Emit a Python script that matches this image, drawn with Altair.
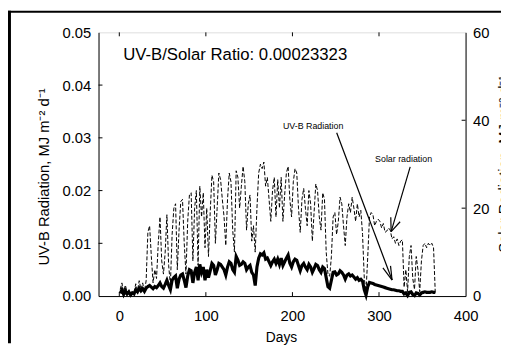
import altair as alt
import pandas as pd

# ---- data (every second day) ----
days = list(range(1, 366, 2))

solar = [
    1.5, 3.0, 1.0, 2.5, 0.8, 1.2, 0.5, 0.8, 0.6, 2.8, 1.2, 3.5, 1.5, 3.0, 1.0,
    3.5, 14.5, 16.0, 9.0, 3.0, 6.0, 4.0, 12.0, 18.0, 8.0, 5.0, 10.0, 18.5, 7.0, 2.5,
    14.0, 20.0, 21.0, 6.0, 15.0, 21.5, 22.0, 12.0, 5.0, 17.0, 23.0, 23.5, 8.0, 20.0, 24.0,
    7.0, 25.0, 18.0, 23.5, 11.0, 20.0, 9.0, 19.0, 27.5, 26.0, 12.0, 20.0, 28.0, 26.5, 22.0,
    18.0, 11.5, 22.0, 28.0, 26.0, 15.0, 10.0, 28.5, 27.0, 20.0, 25.0, 29.5, 26.0, 15.0, 21.0,
    23.0, 12.5, 16.0, 10.0, 20.0, 28.0, 30.0, 29.0, 30.5, 25.0, 27.0, 22.0, 17.0, 24.0, 27.0,
    18.0, 26.5, 20.0, 27.0, 17.0, 23.0, 28.0, 29.5, 22.0, 18.0, 26.0, 29.0, 28.0, 20.0, 14.5,
    22.0, 24.5, 20.0, 16.0, 24.0, 21.0, 12.5, 19.0, 25.5, 24.0, 18.0, 15.0, 23.5, 22.0, 10.0,
    5.0, 4.5, 9.0, 18.0, 19.0, 14.0, 17.0, 22.5, 21.0, 16.0, 11.5, 18.0, 21.0, 19.0, 22.5,
    20.0, 17.0, 21.0, 18.0, 19.5, 14.0, 4.0, 1.0, 9.0, 18.0, 19.0, 18.5, 16.0, 17.0, 17.5,
    17.0, 15.5, 16.5, 14.5, 14.8, 15.5, 15.0, 13.0, 13.5, 12.0, 13.0, 11.5, 12.5, 12.8, 2.0,
    6.0, 1.0, 9.0, 11.5, 4.0, 1.5, 9.0, 6.0, 1.0, 8.0, 11.5, 12.0, 11.0, 12.0, 11.5, 12.0, 11.0, 0.7,
]

uvb = [
    0.0005, 0.0012, 0.0003, 0.0010, 0.0004, 0.0008, 0.0002, 0.0006, 0.0004, 0.0012, 0.0008, 0.0015, 0.0010, 0.0014, 0.0009,
    0.0015, 0.0018, 0.0020, 0.0017, 0.0014, 0.0018, 0.0016, 0.0020, 0.0025, 0.0018, 0.0015, 0.0022, 0.0030, 0.0020, 0.0012,
    0.0030, 0.0035, 0.0038, 0.0015, 0.0032, 0.0040, 0.0042, 0.0030, 0.0016, 0.0038, 0.0050, 0.0048, 0.0025, 0.0045, 0.0055,
    0.0030, 0.0060, 0.0045, 0.0055, 0.0030, 0.0050, 0.0035, 0.0048, 0.0062, 0.0058, 0.0040, 0.0050, 0.0062, 0.0060, 0.0055,
    0.0050, 0.0040, 0.0055, 0.0065, 0.0062, 0.0050, 0.0045, 0.0075, 0.0068, 0.0058, 0.0060, 0.0065, 0.0062, 0.0050, 0.0055,
    0.0058, 0.0045, 0.0040, 0.0020, 0.0055, 0.0072, 0.0080, 0.0078, 0.0082, 0.0070, 0.0072, 0.0065, 0.0058, 0.0065, 0.0070,
    0.0062, 0.0070, 0.0060, 0.0072, 0.0058, 0.0065, 0.0072, 0.0078, 0.0062, 0.0055, 0.0065, 0.0070, 0.0068, 0.0058, 0.0048,
    0.0058, 0.0062, 0.0055, 0.0050, 0.0060, 0.0055, 0.0045, 0.0052, 0.0060, 0.0058, 0.0050, 0.0045, 0.0055, 0.0052, 0.0035,
    0.0018, 0.0015, 0.0030, 0.0045, 0.0046, 0.0040, 0.0042, 0.0048, 0.0045, 0.0040, 0.0032, 0.0040, 0.0042, 0.0038, 0.0040,
    0.0036, 0.0032, 0.0035, 0.0030, 0.0032, 0.0028, 0.0012, 0.0002, 0.0018, 0.0026, 0.0025, 0.0024, 0.0022, 0.0021, 0.0020,
    0.0019, 0.0018, 0.0017, 0.0016, 0.0015, 0.0014, 0.0013, 0.0012, 0.0012, 0.0011, 0.0010, 0.0010, 0.0009, 0.0009, 0.0004,
    0.0006, 0.0001, 0.0007, 0.0008, 0.0003, 0.0001, 0.0006, 0.0005, 0.0002, 0.0006, 0.0007, 0.0008, 0.0007, 0.0007, 0.0007, 0.0008, 0.0007, 0.0007,
]

x_ticks = [0, 100, 200, 300, 400]
x_inner_ticks = [0, 100, 200, 300]
uv_ticks = [0.0, 0.01, 0.02, 0.03, 0.04, 0.05]
uv_inner_ticks = [0.01, 0.02, 0.03, 0.04]
solar_ticks = [0, 20, 40, 60]
solar_inner_ticks = [20, 40]

ratio_label = "UV-B/Solar Ratio: 0.00023323"
ann_text = ["UV-B Radiation", "Solar radiation"]
ann_x = [223.9, 328.4]
ann_y = [0.03228, 0.02593]

# arrow segments (day, UV-B units)
arr_x = [251.1, 304.5, 313.3, 336.0, 313.6, 324.4]
arr_y = [0.03097, 0.00535, 0.00573, 0.02450, 0.01493, 0.01409]
arr_x2 = [315.1, 315.1, 315.1, 314.0, 314.0, 314.0]
arr_y2 = [0.00304, 0.00304, 0.00304, 0.01222, 0.01222, 0.01222]

FONT = "Liberation Sans"
XDOM = [-24, 400]
UVDOM = [0, 0.05]
SDOM = [0, 60]

df = pd.DataFrame({"day": days, "solar": solar, "uvb": uvb})

xs = alt.Scale(domain=XDOM, nice=False, zero=False)
uvs = alt.Scale(domain=UVDOM, nice=False)
ss = alt.Scale(domain=SDOM, nice=False)

x_axis = alt.Axis(
    values=x_ticks, title=None, ticks=False, tickSize=0, labelPadding=13,
    labelFlush=False, grid=False, domainColor="black", labelFontSize=15,
    labelFont=FONT, labelColor="black")


def X(field):
    return alt.X(field, scale=xs, axis=x_axis)


solar_line = alt.Chart(df).mark_line(
    color="black", strokeWidth=1, strokeDash=[4, 2]
).encode(
    x=X("day:Q"),
    y=alt.Y("solar:Q", scale=ss, axis=alt.Axis(
        orient="right", values=solar_ticks, title=None, ticks=False, tickSize=0,
        labelPadding=7, grid=False, domainColor="black", labelFontSize=15,
        labelFont=FONT, labelColor="black")),
)

uv_line = alt.Chart(df).mark_line(color="black", strokeWidth=3.2).encode(
    x=X("day:Q"),
    y=alt.Y("uvb:Q", scale=uvs, axis=alt.Axis(
        orient="left", values=uv_ticks, format=".2f", title=None, ticks=False,
        tickSize=0, labelPadding=8, grid=False, domainColor="black",
        labelFontSize=15, labelFont=FONT, labelColor="black")),
)

arrows = alt.Chart(pd.DataFrame({"x": arr_x, "y": arr_y, "x2": arr_x2, "y2": arr_y2})).mark_rule(
    color="black", strokeWidth=1.2
).encode(
    x=X("x:Q"), x2="x2:Q",
    y=alt.Y("y:Q", scale=uvs, axis=None), y2="y2:Q",
)

ann = alt.Chart(pd.DataFrame({"t": ann_text, "x": ann_x, "y": ann_y})).mark_text(
    font=FONT, fontSize=9, color="black", align="center", baseline="middle"
).encode(
    x=X("x:Q"),
    y=alt.Y("y:Q", scale=uvs, axis=None),
    text="t:N",
)

ratio = alt.Chart(pd.DataFrame({"t": [ratio_label], "x": [4.5], "y": [0.0457]})).mark_text(
    font=FONT, fontSize=17, color="black", align="left", baseline="middle"
).encode(
    x=X("x:Q"),
    y=alt.Y("y:Q", scale=uvs, axis=None),
    text="t:N",
)

left_ticks = alt.Chart(pd.DataFrame({"v": uv_inner_ticks})).mark_rule(color="black").encode(
    y=alt.Y("v:Q", scale=uvs, axis=None), x=alt.value(0), x2=alt.value(4)
)
right_ticks = alt.Chart(pd.DataFrame({"v": solar_inner_ticks})).mark_rule(color="black").encode(
    y=alt.Y("v:Q", scale=ss, axis=None), x=alt.value(373), x2=alt.value(369)
)
bottom_ticks = alt.Chart(pd.DataFrame({"v": x_inner_ticks})).mark_rule(color="black").encode(
    x=X("v:Q"), y=alt.value(268), y2=alt.value(264)
)
top_ticks = alt.Chart(pd.DataFrame({"v": x_inner_ticks})).mark_rule(color="black").encode(
    x=X("v:Q"), y=alt.value(0), y2=alt.value(4)
)

left_title = alt.Chart(pd.DataFrame({"t": ["UV-B Radiation, MJ m⁻² d⁻¹"]})).mark_text(
    font=FONT, fontSize=15, color="black", angle=270, align="center", baseline="alphabetic"
).encode(x=alt.value(-50), y=alt.value(147), text="t:N")

right_title = alt.Chart(pd.DataFrame({"t": ["Solar Radiation, MJ m⁻² d⁻¹"]})).mark_text(
    font=FONT, fontSize=15, color="black", angle=270, align="center", baseline="alphabetic"
).encode(x=alt.value(417), y=alt.value(134), text="t:N")

x_title = alt.Chart(pd.DataFrame({"t": ["Days"]})).mark_text(
    font=FONT, fontSize=14, color="black", align="center", baseline="alphabetic"
).encode(x=alt.value(186), y=alt.value(315), text="t:N")

strip = pd.DataFrame({"a": [0]})
left_strip = alt.Chart(strip).mark_rect(color="black").encode(
    x=alt.value(-92), x2=alt.value(-89), y=alt.value(-22), y2=alt.value(316)
)
top_strip = alt.Chart(strip).mark_rect(color="black").encode(
    x=alt.value(-92), x2=alt.value(409), y=alt.value(-22), y2=alt.value(-20)
)

chart = alt.layer(
    solar_line, uv_line, arrows, ann, ratio,
    left_ticks, right_ticks, bottom_ticks, top_ticks,
    left_title, right_title, x_title, left_strip, top_strip,
).resolve_scale(y="independent").properties(
    width=373, height=268,
    padding={"left": 92, "top": 22, "right": 36, "bottom": 48},
    autosize=alt.AutoSizeParams(type="none"),
).configure_view(stroke="black", strokeWidth=1).configure(background="white")

chart.save("out.html", embed_options={"renderer": "svg", "actions": False})
